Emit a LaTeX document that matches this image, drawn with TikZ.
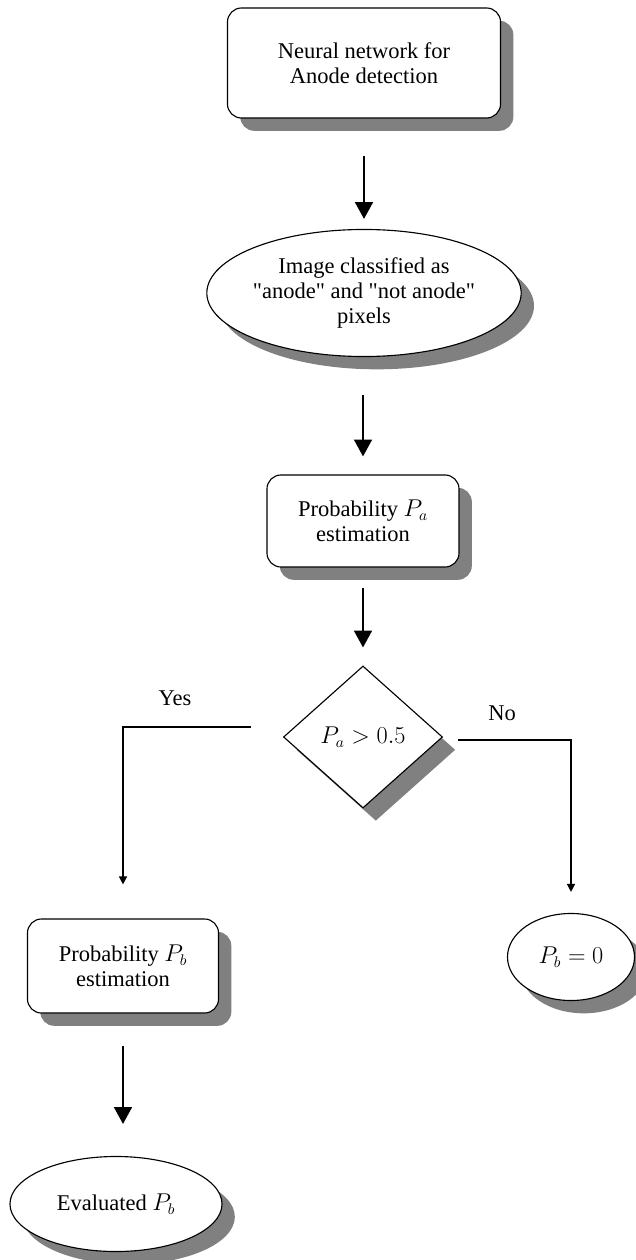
\documentclass[tikz,border=0pt]{standalone}
\usepackage{fontspec}
\setmainfont{Liberation Serif}[Ligatures=TeXOff]
\usetikzlibrary{shapes.geometric,shadows,arrows.meta}

\begin{document}
\begin{tikzpicture}[x=0.025cm,y=-0.025cm,
  every node/.style={font=\fontsize{16}{18}\selectfont, align=center, inner sep=0pt},
  dshadow/.style={drop shadow={shadow xshift=0.32cm, shadow yshift=-0.32cm, fill=gray, opacity=1}},
  procbox/.style={draw, fill=white, rounded corners=0.35cm, line width=0.8pt, dshadow},
  roundbox/.style={draw, fill=white, ellipse, line width=0.8pt, dshadow},
  decbox/.style={draw, fill=white, diamond, line width=0.8pt, dshadow},
  bigarrow/.style={-{Triangle[width=0.45cm,length=0.42cm]}, line width=1pt},
  smallarrow/.style={-{Triangle[width=0.2cm,length=0.2cm]}, line width=1pt}]
\useasboundingbox (0,0) rectangle (636,1260);
\node[procbox, minimum width=6.825cm, minimum height=2.75cm] (nn) at (364,63) {Neural network for\\Anode detection};
\node[roundbox, minimum width=7.675cm, minimum height=3.175cm] (img) at (364,293) {Image classified as\\"anode" and "not anode"\\pixels};
\node[procbox, minimum width=4.8cm, minimum height=2.3cm] (pa) at (363,521) {Probability $P_a$\\estimation};
\node[decbox, minimum width=3.975cm, minimum height=3.55cm] (dec) at (363,737) {$P_a > 0.5$};
\node[procbox, minimum width=4.775cm, minimum height=2.35cm] (pb) at (123,966) {Probability $P_b$\\estimation};
\node[roundbox, minimum width=3.175cm, minimum height=2.175cm] (pbzero) at (571,957) {$P_b = 0$};
\node[roundbox, minimum width=5.3cm, minimum height=2.375cm] (ev) at (116,1204) {Evaluated $P_b$};
\node (yes) at (175,698) {Yes};
\node (no) at (502,713) {No};
\coordinate (yesfrom) at (251,727);
\coordinate (nofrom) at (458,740);
\draw[bigarrow, shorten <=0.925cm, shorten >=0.25cm] (nn.south) -- (nn.south |- img.north);
\draw[bigarrow, shorten <=0.95cm, shorten >=0.45cm] (pa.north |- img.south) -- (pa.north);
\draw[bigarrow, shorten <=0.5cm, shorten >=0.45cm] (pa.south) -- (dec.north);
\draw[smallarrow, shorten >=0.85cm] (yesfrom) -| (pb.north);
\draw[smallarrow, shorten >=0.525cm] (nofrom) -| (pbzero.north);
\draw[bigarrow, shorten <=0.8cm, shorten >=0.8cm] (pb.south) -- (pb.south |- ev.north);
\end{tikzpicture}
\end{document}
